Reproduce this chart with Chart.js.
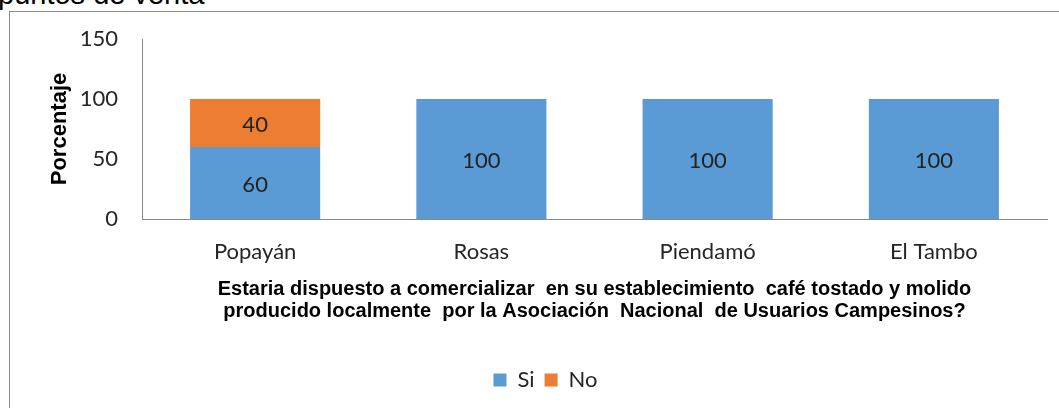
<!DOCTYPE html>
<html>
<head>
<meta charset="utf-8">
<script src="https://cdn.jsdelivr.net/npm/chart.js@4/dist/chart.umd.min.js"></script>
<style>
  html, body { margin: 0; padding: 0; background: #ffffff; overflow: hidden; }
  #wrap { position: relative; width: 1059px; height: 408px; overflow: hidden; }
  #frame { position: absolute; left: 9px; top: 11px; width: 1200px; height: 500px;
           border-left: 1px solid #8c8c8c; border-top: 1px solid #8c8c8c; }
  #above { position: absolute; left: -2px; top: -20px; font-family: "Liberation Sans", Arial, sans-serif;
           font-size: 29px; line-height: 29px; color: #000; white-space: nowrap; }
  #c { position: absolute; left: 0; top: 0; }
</style>
</head>
<body>
<div id="wrap">
  <div id="above">puntos de venta</div>
  <div id="frame"></div>
  <canvas id="c" width="1059" height="408"></canvas>
</div>
<script>
const categories = ["Popayán", "Rosas", "Piendamó", "El Tambo"];
const siValues = [60, 100, 100, 100];
const noValues = [40, null, null, null];
const yTicks = [0, 50, 100, 150];
const xTitle = ["Estaria dispuesto a comercializar  en su establecimiento  café tostado y molido",
                "producido localmente  por la Asociación  Nacional  de Usuarios Campesinos?"];
const yTitle = "Porcentaje";

const tickFont = { family: "Lato, 'Open Sans', sans-serif", size: 22 };

const valueLabels = {
  id: "valueLabels",
  afterDatasetsDraw(chart) {
    const ctx = chart.ctx;
    ctx.save();
    ctx.font = "22px Lato, 'Open Sans', sans-serif";
    ctx.fillStyle = "#222222";
    ctx.textAlign = "center";
    ctx.textBaseline = "middle";
    chart.data.datasets.forEach((ds, di) => {
      const meta = chart.getDatasetMeta(di);
      meta.data.forEach((el, i) => {
        const v = ds.data[i];
        if (v === null || v === undefined) return;
        const p = el.getProps(["x", "y", "base"], true);
        ctx.fillText(String(v), p.x, (p.y + p.base) / 2 + 2);
      });
    });
    ctx.restore();
  }
};

const legendShift = {
  id: "legendShift",
  afterLayout(chart) {
    if (chart.legend) {
      chart.legend.left += 22;
      chart.legend.right += 22;
    }
  }
};

new Chart(document.getElementById("c"), {
  type: "bar",
  data: {
    labels: categories,
    datasets: [
      { label: "Si", data: siValues, backgroundColor: "#5B9BD5", borderWidth: 0 },
      { label: "No", data: noValues, backgroundColor: "#ED7D31", borderWidth: 0 }
    ]
  },
  options: {
    responsive: false,
    animation: false,
    events: [],
    layout: { padding: { left: 0, right: 12, top: 39, bottom: 7 } },
    datasets: { bar: { categoryPercentage: 1, barPercentage: 0.575 } },
    scales: {
      x: {
        stacked: true,
        grid: { display: false, drawTicks: false },
        border: { display: true, color: "#898989", width: 1 },
        ticks: { font: tickFont, color: "#262626", padding: 20, maxRotation: 0 },
        title: {
          display: true, text: xTitle, color: "#000",
          font: { family: "'Liberation Sans', Arial, sans-serif", size: 20, weight: "bold", lineHeight: 1.1 },
          padding: { top: 0, bottom: 37 }
        },
        afterFit(scale) { scale.height = 140; }
      },
      y: {
        stacked: true,
        min: 0, max: 150,
        afterBuildTicks(scale) { scale.ticks = yTicks.map(v => ({ value: v })); },
        grid: { display: false, drawTicks: false },
        border: { display: true, color: "#898989", width: 1 },
        ticks: { font: tickFont, color: "#262626", padding: 24 },
        title: {
          display: true, text: yTitle, color: "#000",
          font: { family: "'Liberation Sans', Arial, sans-serif", size: 22, weight: "bold", lineHeight: 1.2 },
          padding: { top: 47, bottom: 0 }
        },
        afterFit(scale) { scale.width = 142; }
      }
    },
    plugins: {
      legend: {
        position: "bottom",
        labels: {
          font: { family: "Lato, 'Open Sans', sans-serif", size: 22 },
          color: "#262626",
          boxWidth: 13, boxHeight: 13, padding: 10
        }
      },
      tooltip: { enabled: false },
      title: { display: false }
    }
  },
  plugins: [valueLabels, legendShift]
});
</script>
</body>
</html>
